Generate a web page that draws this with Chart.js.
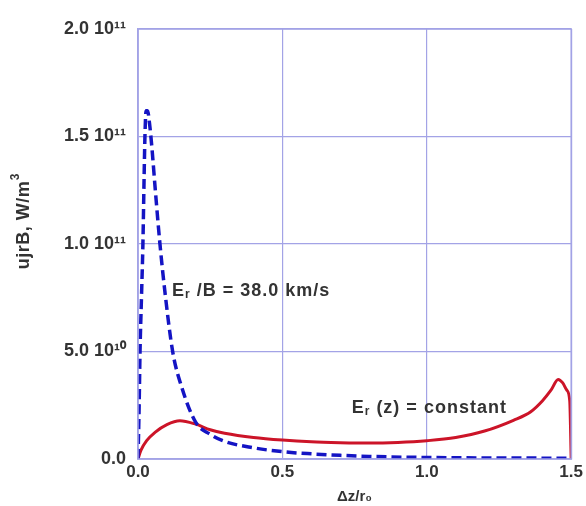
<!DOCTYPE html>
<html>
<head>
<meta charset="utf-8">
<script src="https://cdn.jsdelivr.net/npm/chart.js@4/dist/chart.umd.min.js"></script>
<style>
  html, body { margin: 0; padding: 0; background: #fff; }
  #wrap { width: 586px; height: 506px; }
</style>
</head>
<body>
<div id="wrap"><canvas id="chart" width="586" height="506"></canvas></div>
<script>
// values (y in W/m^3)
var blueX = [0, 0.004, 0.007, 0.012, 0.017, 0.021, 0.024, 0.028, 0.033, 0.04, 0.048, 0.06, 0.076, 0.093, 0.12, 0.15, 0.2, 0.25, 0.3, 0.4, 0.5, 0.6, 0.7, 0.8, 1.0, 1.2, 1.4, 1.5];
var blueY = [0, 2.5e10, 5.0e10, 7.5e10, 1.0e11, 1.3e11, 1.5e11, 1.62e11, 1.62e11, 1.56e11, 1.45e11, 1.25e11, 1.0e11, 7.8e10, 5.0e10, 3.4e10, 1.7e10, 1.15e10, 0.82e10, 0.52e10, 0.34e10, 0.24e10, 0.17e10, 0.12e10, 0.07e10, 0.05e10, 0.04e10, 0.03e10];

var redX = [0, 0.01, 0.03, 0.06, 0.1, 0.145, 0.2, 0.25, 0.3, 0.4, 0.5, 0.6, 0.7, 0.8, 0.9, 1.0, 1.1, 1.2, 1.3, 1.36, 1.4, 1.43, 1.455, 1.47, 1.485, 1.495, 1.5];
var redY = [0, 0.4e10, 0.85e10, 1.25e10, 1.6e10, 1.78e10, 1.62e10, 1.36e10, 1.2e10, 1.0e10, 0.88e10, 0.8e10, 0.76e10, 0.74e10, 0.77e10, 0.85e10, 1.0e10, 1.3e10, 1.8e10, 2.2e10, 2.7e10, 3.2e10, 3.7e10, 3.55e10, 3.2e10, 2.7e10, 0];

var xTicks = [0, 0.5, 1.0, 1.5];
var xTickLabels = ["0.0", "0.5", "1.0", "1.5"];
var yTicks = [0, 5e10, 1e11, 1.5e11, 2e11];
var yTickLabels = ["0.0", "5.0 10\u00B9\u2070", "1.0 10\u00B9\u00B9", "1.5 10\u00B9\u00B9", "2.0 10\u00B9\u00B9"];

var gridCol = "#a3a3e6";
var textCol = "#333";
var font = "'Liberation Sans', Arial, sans-serif";

function pairs(xs, ys) {
    var out = [];
    for (var i = 0; i < xs.length; i++) {
        out.push({ x: xs[i], y: ys[i] });
    }
    return out;
}

// text on the plot: annotations and the y title
var labelsPlugin = {
    id: "labels",
    afterDraw: function(chart) {
        var ctx = chart.ctx;
        var xs = chart.scales.x, ys = chart.scales.y;
        ctx.save();
        ctx.fillStyle = textCol;
        ctx.textBaseline = "middle";
        ctx.letterSpacing = "1px";

        function subLabel(x, y, rest) {
            ctx.textAlign = "left";
            ctx.font = "bold 18px " + font;
            ctx.fillText("E", x, y);
            var w = ctx.measureText("E").width;
            ctx.font = "bold 12px " + font;
            ctx.fillText("r", x + w, y + 3);
            var w2 = ctx.measureText("r").width;
            ctx.font = "bold 18px " + font;
            ctx.fillText(rest, x + w + w2, y);
        }
        subLabel(xs.getPixelForValue(0.118), ys.getPixelForValue(0.78e11), " /B = 38.0 km/s");
        subLabel(xs.getPixelForValue(0.74), ys.getPixelForValue(0.236e11), " (z) = constant");

        // y title
        ctx.translate(24, 219);
        ctx.rotate(-Math.PI / 2);
        ctx.textAlign = "center";
        ctx.letterSpacing = "0.5px";
        ctx.font = "bold 18px " + font;
        ctx.fillText("ujrB, W/m", -6, 0);
        var tw = ctx.measureText("ujrB, W/m").width;
        ctx.font = "bold 12px " + font;
        ctx.fillText("3", -6 + tw / 2 + 4, -8);
        ctx.restore();
    }
};

var ctx = document.getElementById("chart").getContext("2d");
ctx.letterSpacing = "1.5px";
var chart = new Chart(ctx, {
    type: "line",
    data: {
        datasets: [{
            label: "Er/B = 38.0 km/s",
            data: pairs(blueX, blueY),
            borderColor: "#1414c4",
            borderWidth: 3.5,
            borderDash: [10, 5],
            pointRadius: 0,
            fill: false,
            cubicInterpolationMode: "monotone"
        }, {
            label: "Er(z) = constant",
            data: pairs(redX, redY),
            borderColor: "#cc1428",
            borderWidth: 3,
            pointRadius: 0,
            fill: false,
            cubicInterpolationMode: "monotone"
        }]
    },
    options: {
        responsive: false,
        animation: false,
        layout: { padding: { top: 29, right: 14, left: 0, bottom: 0 } },
        plugins: {
            legend: { display: false },
            tooltip: { enabled: false }
        },
        scales: {
            x: {
                type: "linear",
                min: 0,
                max: 1.5,
                afterBuildTicks: function(scale) {
                    scale.ticks = xTicks.map(function(v) { return { value: v }; });
                },
                afterFit: function(scale) { scale.height = 47; },
                ticks: {
                    color: textCol,
                    font: { family: font, size: 17, weight: "bold" },
                    padding: 3,
                    maxRotation: 0,
                    callback: function(v) {
                        var i = xTicks.indexOf(v);
                        return i >= 0 ? xTickLabels[i] : "";
                    }
                },
                grid: { color: gridCol, lineWidth: 1.2, drawTicks: false },
                border: { color: gridCol, width: 1.5 },
                title: {
                    display: true,
                    text: "\u0394z/r\u2080",
                    color: textCol,
                    font: { family: font, size: 15, weight: "bold" },
                    padding: { top: 0, bottom: 0 }
                }
            },
            y: {
                type: "linear",
                min: 0,
                max: 2e11,
                afterBuildTicks: function(scale) {
                    scale.ticks = yTicks.map(function(v) { return { value: v }; });
                },
                afterFit: function(scale) { scale.width = 138; },
                ticks: {
                    color: textCol,
                    font: { family: font, size: 18, weight: "bold" },
                    padding: 12,
                    callback: function(v) {
                        var i = yTicks.indexOf(v);
                        return i >= 0 ? yTickLabels[i] : "";
                    }
                },
                grid: { color: gridCol, lineWidth: 1.2, drawTicks: false },
                border: { color: gridCol, width: 1.5 }
            }
        }
    },
    plugins: [labelsPlugin, {
        id: "frame",
        afterDatasetsDraw: function(chart) {
            var a = chart.chartArea, c = chart.ctx;
            c.save();
            c.strokeStyle = gridCol;
            c.lineWidth = 1.5;
            c.strokeRect(a.left, a.top, a.right - a.left, a.bottom - a.top);
            c.restore();
        }
    }]
});
</script>
</body>
</html>
